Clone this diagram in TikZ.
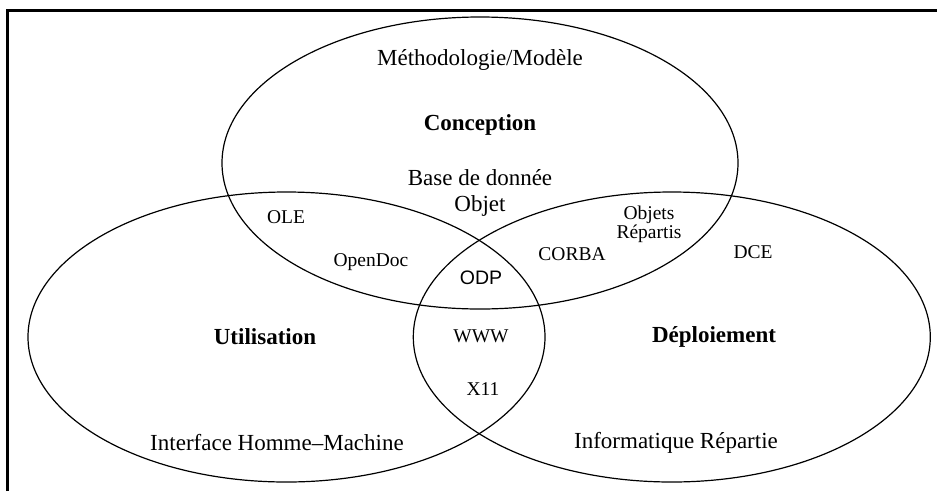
\documentclass[tikz,border=0pt]{standalone}
\usepackage{fontspec}
\setmainfont{Liberation Serif}
\setsansfont{Liberation Sans}
\usepackage{tikz}

\begin{document}
\begin{tikzpicture}[x=1pt, y=-1pt,
  setStyle/.style={line width=1.2pt},
  frameStyle/.style={line width=3pt},
  bigText/.style={font=\fontsize{23}{26}\selectfont, align=center, inner sep=0pt},
  boldText/.style={font=\fontsize{23}{26}\selectfont\bfseries, align=center, inner sep=0pt},
  smallText/.style={font=\fontsize{19.5}{19}\selectfont, align=center, inner sep=0pt}
]
\useasboundingbox (0, 0) rectangle (937, 491);
\draw [frameStyle] (7.5, 491) -- (7.5, 10.5) -- (937, 10.5);

% les trois ensembles
\draw [setStyle] (480, 163)   ellipse [x radius=258pt, y radius=146pt];
\draw [setStyle] (286.5, 337) ellipse [x radius=258.5pt, y radius=145pt];
\draw [setStyle] (671.8, 337) ellipse [x radius=258.5pt, y radius=145pt];

\node [bigText]  (methode)   at (480, 60)  {Méthodologie/Modèle};
\node [boldText] (conception) at (480, 125) {Conception};
\node [bigText]  (baseObjet) at (480, 193) {Base de donnée\\Objet};

\node [smallText] (ole)      at (286, 217) {OLE};
\node [smallText] (openDoc)  at (371, 262) {OpenDoc};
\node [smallText] (objRep)   at (649, 224) {Objets\\Répartis};
\node [smallText] (corba)    at (572, 254) {CORBA};
\node [smallText] (dce)      at (753, 252) {DCE};
\node [smallText, font=\fontsize{19.5}{19}\selectfont\sffamily] (odp) at (481, 278) {ODP};
\node [smallText] (www)      at (481, 336) {WWW};
\node [smallText] (xOnze)    at (483, 389) {X11};

\node [boldText] (utilisation) at (265, 337) {Utilisation};
\node [boldText] (deploiement) at (714, 337) {Déploiement};
\node [bigText]  (ihm)       at (277, 443) {Interface Homme--Machine};
\node [bigText]  (infoRep)   at (676, 443) {Informatique Répartie};
\end{tikzpicture}
\end{document}
